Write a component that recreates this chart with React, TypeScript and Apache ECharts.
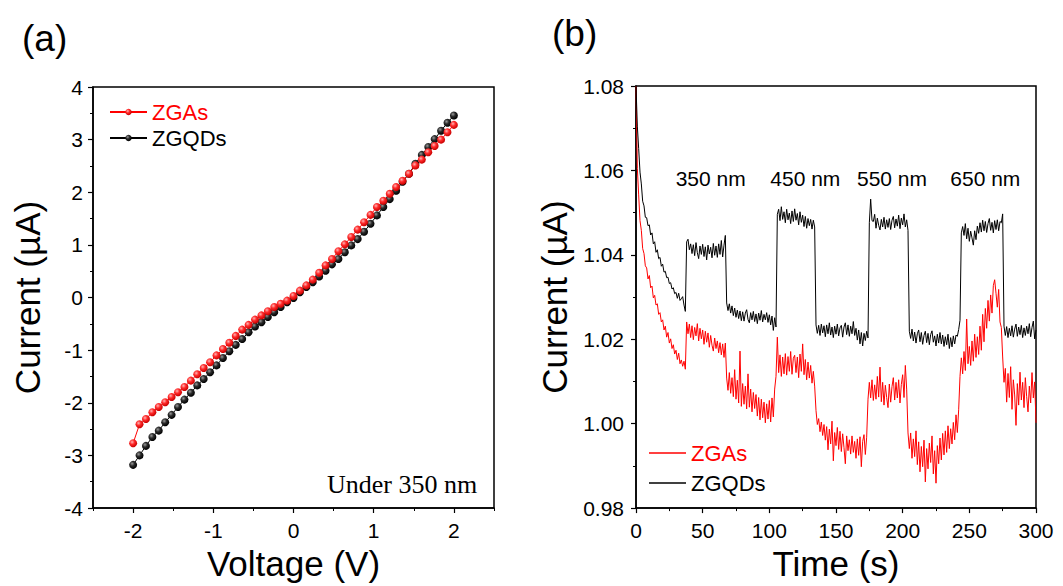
import React, { useEffect, useRef } from "react";
import * as echarts from "echarts";

// ---------- Panel (a): I-V curves under 350 nm ----------
const voltage = [
  -2, -1.92, -1.84, -1.76, -1.68, -1.6, -1.52, -1.44, -1.36, -1.28, -1.2, -1.12, -1.04,
  -0.96, -0.88, -0.8, -0.72, -0.64, -0.56, -0.48, -0.4, -0.32, -0.24, -0.16, -0.08, 0,
  0.08, 0.16, 0.24, 0.32, 0.4, 0.48, 0.56, 0.64, 0.72, 0.8, 0.88, 0.96, 1.04, 1.12, 1.2,
  1.28, 1.36, 1.44, 1.52, 1.6, 1.68, 1.76, 1.84, 1.92, 2,
];
const ivZGAs = [
  -2.77, -2.41, -2.31, -2.18, -2.08, -1.99, -1.89, -1.8, -1.7, -1.58, -1.46, -1.34, -1.23,
  -1.1, -0.98, -0.86, -0.73, -0.61, -0.52, -0.42, -0.34, -0.26, -0.18, -0.12, -0.06, 0.03,
  0.13, 0.23, 0.34, 0.47, 0.61, 0.73, 0.88, 1.01, 1.15, 1.29, 1.43, 1.57, 1.72, 1.84, 1.97,
  2.1, 2.22, 2.35, 2.51, 2.62, 2.76, 2.88, 3.0, 3.14, 3.28,
];
const ivZGQDs = [
  -3.18, -3.0, -2.82, -2.65, -2.53, -2.37, -2.23, -2.08, -1.94, -1.81, -1.67, -1.55, -1.42,
  -1.29, -1.15, -1.02, -0.9, -0.79, -0.66, -0.55, -0.47, -0.37, -0.28, -0.18, -0.09, -0.01,
  0.1, 0.2, 0.29, 0.4, 0.51, 0.63, 0.73, 0.86, 0.99, 1.11, 1.25, 1.4, 1.56, 1.72, 1.87,
  2.03, 2.2, 2.35, 2.54, 2.71, 2.86, 3.01, 3.17, 3.32, 3.46,
];
const voltageTicks = [-2, -1, 0, 1, 2];
const voltageMinorTicks = [-2.5, -1.5, -0.5, 0.5, 1.5, 2.5];

// ---------- Panel (b): photo-response, one sample per second (0..300 s) ----------
const sampleStepSeconds = 1;
const ptZGQDs = [
  1.08, 1.0705, 1.0652, 1.0596, 1.0568, 1.0527, 1.0516, 1.0489, 1.0488, 1.0469,
  1.0471, 1.0447, 1.0452, 1.0426, 1.0431, 1.0406, 1.0412, 1.0391, 1.0394, 1.0373,
  1.0378, 1.0359, 1.0361, 1.0346, 1.0347, 1.0332, 1.0334, 1.0319, 1.0322, 1.0308,
  1.0311, 1.0297, 1.0309, 1.0292, 1.0296, 1.0301, 1.0281, 1.0266, 1.0431, 1.0437,
  1.0412, 1.0426, 1.0403, 1.0424, 1.0398, 1.0429, 1.0405, 1.0391, 1.0421, 1.0401,
  1.0425, 1.0396, 1.0419, 1.0388, 1.0423, 1.0402, 1.0418, 1.0393, 1.0427, 1.0399,
  1.0421, 1.0394, 1.0426, 1.0401, 1.0434, 1.0395, 1.0423, 1.0446, 1.0286, 1.0268,
  1.0284, 1.0262, 1.0279, 1.0256, 1.0274, 1.0252, 1.0269, 1.0249, 1.0267, 1.0244,
  1.0265, 1.0243, 1.0262, 1.027, 1.0247, 1.0239, 1.0263, 1.0246, 1.0266, 1.0242,
  1.026, 1.0237, 1.0262, 1.0245, 1.0268, 1.0241, 1.0259, 1.0246, 1.0263, 1.024,
  1.0258, 1.0234, 1.0255, 1.0221, 1.0251, 1.0229, 1.0496, 1.0508, 1.0481, 1.0514,
  1.0484, 1.0502, 1.0476, 1.0508, 1.0483, 1.0499, 1.0474, 1.0504, 1.0479, 1.0509,
  1.0482, 1.0498, 1.0471, 1.0502, 1.0477, 1.0494, 1.0467, 1.0491, 1.0463, 1.0486,
  1.0469, 1.0484, 1.0461, 1.0482, 1.0466, 1.0234, 1.0214, 1.0233, 1.0209, 1.0236,
  1.0215, 1.0232, 1.0206, 1.0234, 1.0213, 1.0239, 1.021, 1.0229, 1.0204, 1.0231,
  1.0212, 1.0236, 1.0208, 1.0227, 1.0233, 1.0205, 1.0229, 1.0239, 1.0211, 1.0234,
  1.0207, 1.0231, 1.0213, 1.0242, 1.0209, 1.0226, 1.0198, 1.0222, 1.0189, 1.0216,
  1.0184, 1.0214, 1.0197, 1.0219, 1.0203, 1.0476, 1.0532, 1.0481, 1.0479, 1.0496,
  1.0463, 1.0487, 1.047, 1.0459, 1.0484, 1.0466, 1.0489, 1.0461, 1.0483, 1.0465,
  1.0486, 1.046, 1.0482, 1.0491, 1.0464, 1.0485, 1.0468, 1.0494, 1.0462, 1.0487,
  1.0471, 1.0497, 1.0466, 1.0483, 1.0458, 1.0219, 1.0202, 1.0224, 1.0196, 1.0217,
  1.0191, 1.0213, 1.0222, 1.0194, 1.0216, 1.0188, 1.0209, 1.0219, 1.0192, 1.0214,
  1.0187, 1.0211, 1.022, 1.0193, 1.0208, 1.0184, 1.0212, 1.0191, 1.0216, 1.0189,
  1.021, 1.0183, 1.0206, 1.0187, 1.0212, 1.0178, 1.0204, 1.0182, 1.0208, 1.0189,
  1.021, 1.0207, 1.0223, 1.0245, 1.0452, 1.0467, 1.0446, 1.0474, 1.0438, 1.0463,
  1.0432, 1.0456, 1.044, 1.0423, 1.0457, 1.0436, 1.0468, 1.0451, 1.0476, 1.0454,
  1.0482, 1.0457, 1.0479, 1.0453, 1.0474, 1.0486, 1.0458, 1.0477, 1.0452, 1.0481,
  1.046, 1.0483, 1.0457, 1.0479, 1.0476, 1.0497, 1.0231, 1.0209, 1.023, 1.0204,
  1.0226, 1.0208, 1.0232, 1.0205, 1.0224, 1.0236, 1.0207, 1.0229, 1.0211, 1.0233,
  1.0204, 1.0227, 1.0209, 1.0231, 1.0213, 1.0237, 1.0206, 1.0228, 1.0243, 1.0201,
  1.0222,
];
const ptZGAs = [
  1.08, 1.0605, 1.0542, 1.0481, 1.0458, 1.0415, 1.0403, 1.0374, 1.0369, 1.0343,
  1.0351, 1.0322, 1.0326, 1.0298, 1.0304, 1.0281, 1.0284, 1.0259, 1.0263, 1.0241,
  1.0246, 1.0222, 1.0231, 1.0205, 1.0216, 1.0191, 1.0201, 1.0178, 1.0187, 1.0165,
  1.0174, 1.0152, 1.0167, 1.0142, 1.0151, 1.0136, 1.0148, 1.0129, 1.0241, 1.0213,
  1.0236, 1.0204, 1.0232, 1.0199, 1.0228, 1.0208, 1.0237, 1.0196, 1.0226, 1.0201,
  1.0222, 1.0188, 1.0219, 1.0193, 1.0215, 1.0181, 1.0209, 1.0186, 1.0172, 1.0203,
  1.0178, 1.0196, 1.0168, 1.0192, 1.0163, 1.0189, 1.0157, 1.0191, 1.0108, 1.0079,
  1.0121, 1.0072, 1.0109, 1.0064, 1.0128, 1.0058, 1.0103, 1.0049, 1.0172, 1.0041,
  1.0095, 1.0046, 1.0089, 1.0035, 1.0118, 1.0039, 1.0082, 1.0028, 1.0074, 1.0036,
  1.0069, 1.0018, 1.0062, 1.0009, 1.0058, 1.0014, 1.0051, 1.0002, 1.0047, 1.0011,
  1.0055, 1.0004, 1.0061, 1.0016, 1.0082, 1.0112, 1.0205, 1.0121, 1.0163, 1.0112,
  1.0158, 1.0118, 1.0166, 1.0115, 1.0159, 1.0124, 1.0171, 1.0117, 1.0155, 1.0162,
  1.0121, 1.0158, 1.0109, 1.0165, 1.0124, 1.0189, 1.0116, 1.0152, 1.0104, 1.0146,
  1.0108, 1.0138, 1.0096, 1.0124, 1.0089, 1.0031, 0.9998, 1.0012, 0.9981, 1.0004,
  0.9972, 0.9998, 0.9961, 0.9993, 0.9938, 0.9987, 0.9952, 1.0006, 0.9912, 0.9979,
  0.9948, 0.9991, 0.9939, 0.9982, 0.9934, 0.9976, 0.9943, 0.9905, 0.9971, 0.9936,
  0.9962, 0.9928, 0.9971, 0.9932, 0.9958, 0.9918, 0.9964, 0.9925, 0.9969, 0.9898,
  0.9958, 0.9974, 0.9927, 0.9968, 1.0058, 1.0098, 1.0061, 1.0104, 1.0055, 1.0092,
  1.0058, 1.0112, 1.0063, 1.0134, 1.0052, 1.0098, 1.0044, 1.0091, 1.0062, 1.0038,
  1.0094, 1.0051, 1.0088, 1.0109, 1.0056, 1.0098, 1.0061, 1.0104, 1.0049, 1.0093,
  1.0116, 1.0062, 1.0138, 1.0082, 0.9978, 0.9941, 0.9978, 0.9918, 0.9964, 0.9922,
  0.9983, 0.9903, 0.9957, 0.9886, 0.9946, 0.9898, 0.9961, 0.9862, 0.9941, 0.9893,
  0.9954, 0.9908, 0.9971, 0.9881, 0.9936, 0.9859, 0.9948, 0.9905, 0.9966, 0.9914,
  0.9977, 0.9926, 0.9983, 0.9932, 0.9995, 0.9941, 0.9988, 0.9952, 1.0003, 0.9962,
  1.0021, 0.9979, 1.0033, 1.0112, 1.0156, 1.0118, 1.0171, 1.0126, 1.0248, 1.0142,
  1.0183, 1.0138, 1.0196, 1.0148, 1.0212, 1.0157, 1.0206, 1.0164, 1.0231, 1.0174,
  1.0259, 1.0194, 1.0273, 1.0226, 1.0292, 1.0243, 1.0305, 1.0262, 1.0327, 1.0341,
  1.0309, 1.0276, 1.0318, 1.0241, 1.0228, 1.0158, 1.0098, 1.0131, 1.0051, 1.0119,
  1.0062, 1.0135, 1.0034, 1.0104, 1.0068, 0.9996, 1.0095, 1.0044, 1.0122, 1.0056,
  1.0098, 1.0038, 1.0109, 1.0064, 1.0028, 1.0089, 1.0049, 1.0121, 1.0061, 1.0099,
  1.0002,
];
const wavelengthLabels = ["350 nm", "450 nm", "550 nm", "650 nm"];
const wavelengthLabelTimes = [56, 127, 192, 262];
const wavelengthLabelCurrent = 1.058;

const FONT = '"Liberation Sans", Arial, Helvetica, sans-serif';
const RED = "#ff0000";
const BLACK = "#000000";

const ball = (hi: string, mid: string, dark: string) => ({
  type: "radial",
  x: 0.38,
  y: 0.35,
  r: 0.65,
  colorStops: [
    { offset: 0, color: hi },
    { offset: 0.45, color: mid },
    { offset: 1, color: dark },
  ],
});

export default function App() {
  const ref = useRef<HTMLDivElement>(null);

  useEffect(() => {
    document.body.style.margin = "0";
    if (!ref.current) return;
    const chart = echarts.init(ref.current, null, { renderer: "svg" });

    const axisLineStyle = { color: BLACK, width: 1.5 };
    const labelStyle = { color: BLACK, fontSize: 21, fontFamily: FONT };
    const nameStyle = { color: BLACK, fontSize: 35, fontFamily: FONT };
    const lineIcon = "rect";

    const option: any = {
      animation: false,
      backgroundColor: "#ffffff",
      grid: [
        { left: 93, top: 87, width: 401, height: 421, show: true, borderColor: BLACK, borderWidth: 1.5, backgroundColor: "transparent" },
        { left: 636, top: 86, width: 400, height: 425, show: true, borderColor: BLACK, borderWidth: 1.5, backgroundColor: "transparent" },
      ],
      xAxis: [
        {
          type: "value", gridIndex: 0, position: "bottom", min: -2.5, max: 2.5,
          name: "Voltage (V)", nameLocation: "middle", nameGap: 37, nameTextStyle: nameStyle,
          axisLine: { show: true, onZero: false, lineStyle: axisLineStyle },
          axisTick: { show: true, customValues: voltageTicks, length: 5, lineStyle: { color: BLACK, width: 1.2 } },
          axisLabel: { ...labelStyle, customValues: voltageTicks, margin: 12 },
          splitLine: { show: false },
        },
        {
          type: "value", gridIndex: 0, position: "bottom", min: -2.5, max: 2.5,
          axisLine: { show: false, onZero: false },
          axisTick: { show: true, customValues: voltageMinorTicks, length: 3, lineStyle: { color: BLACK, width: 1 } },
          axisLabel: { show: false },
          splitLine: { show: false },
        },
        {
          type: "value", gridIndex: 1, position: "bottom", min: 0, max: 300, interval: 50,
          name: "Time (s)", nameLocation: "middle", nameGap: 37, nameTextStyle: nameStyle,
          axisLine: { show: true, onZero: false, lineStyle: axisLineStyle },
          axisTick: { show: true, length: 5, lineStyle: { color: BLACK, width: 1.2 } },
          minorTick: { show: true, splitNumber: 2, length: 3, lineStyle: { color: BLACK, width: 1 } },
          axisLabel: { ...labelStyle, margin: 12 },
          splitLine: { show: false },
        },
      ],
      yAxis: [
        {
          type: "value", gridIndex: 0, min: -4, max: 4, interval: 1,
          name: "Current (µA)", nameLocation: "middle", nameGap: 48, nameTextStyle: nameStyle,
          axisLine: { show: true, onZero: false, lineStyle: axisLineStyle },
          axisTick: { show: true, length: 5, lineStyle: { color: BLACK, width: 1.2 } },
          minorTick: { show: true, splitNumber: 2, length: 3, lineStyle: { color: BLACK, width: 1 } },
          axisLabel: { ...labelStyle, margin: 10 },
          splitLine: { show: false },
        },
        {
          type: "value", gridIndex: 1, min: 0.98, max: 1.08, interval: 0.02,
          name: "Current (µA)", nameLocation: "middle", nameGap: 64, nameTextStyle: nameStyle,
          axisLine: { show: true, onZero: false, lineStyle: axisLineStyle },
          axisTick: { show: true, length: 5, lineStyle: { color: BLACK, width: 1.2 } },
          minorTick: { show: true, splitNumber: 2, length: 3, lineStyle: { color: BLACK, width: 1 } },
          axisLabel: { ...labelStyle, margin: 12, formatter: (v: number) => v.toFixed(2) },
          splitLine: { show: false },
        },
      ],
      legend: [
        {
          orient: "vertical", left: 109, top: 101, padding: 0, itemGap: 4,
          itemWidth: 37, itemHeight: 8,
          textStyle: { color: BLACK, fontSize: 22, fontFamily: FONT },
          data: [{ name: "ZGAs", textStyle: { color: RED } }, { name: "ZGQDs" }],
        },
        {
          orient: "vertical", left: 649, top: 442, padding: 0, itemGap: 8,
          itemWidth: 37, itemHeight: 1.3,
          textStyle: { color: BLACK, fontSize: 22, fontFamily: FONT },
          formatter: (n: string) => n.trim(),
          data: [
            { name: "ZGAs ", icon: lineIcon, textStyle: { color: RED } },
            { name: "ZGQDs ", icon: lineIcon },
          ],
        },
      ],
      series: [
        {
          name: "ZGQDs", type: "line", xAxisIndex: 0, yAxisIndex: 0,
          data: voltage.map((v, i) => [v, ivZGQDs[i]]),
          symbol: "circle", symbolSize: 8, showAllSymbol: true,
          itemStyle: { color: ball("#9a9a9a", "#2a2a2a", "#000000") },
          lineStyle: { color: BLACK, width: 1 },
        },
        {
          name: "ZGAs", type: "line", xAxisIndex: 0, yAxisIndex: 0,
          data: voltage.map((v, i) => [v, ivZGAs[i]]),
          symbol: "circle", symbolSize: 8, showAllSymbol: true,
          itemStyle: { color: ball("#ffb4b4", "#ff2a2a", "#c80000") },
          lineStyle: { color: RED, width: 1 },
        },
        {
          name: "ZGAs ", type: "line", xAxisIndex: 2, yAxisIndex: 1,
          data: ptZGAs.map((c, i) => [i * sampleStepSeconds, c]),
          symbol: "none", itemStyle: { color: RED }, lineStyle: { color: RED, width: 1 },
        },
        {
          name: "ZGQDs ", type: "line", xAxisIndex: 2, yAxisIndex: 1,
          data: ptZGQDs.map((c, i) => [i * sampleStepSeconds, c]),
          symbol: "none", itemStyle: { color: BLACK }, lineStyle: { color: BLACK, width: 1 },
        },
        {
          name: "wavelength", type: "scatter", xAxisIndex: 2, yAxisIndex: 1,
          symbolSize: 0, silent: true, itemStyle: { opacity: 1 },
          data: wavelengthLabels.map((w, i) => ({ name: w, value: [wavelengthLabelTimes[i], wavelengthLabelCurrent] })),
          label: { show: true, position: "inside", formatter: "{b}", color: BLACK, opacity: 1, fontSize: 21, fontFamily: FONT },
        },
      ],
      graphic: [
        { type: "text", left: 22, top: 20, style: { text: "(a)", fontSize: 37, fontFamily: FONT, fill: BLACK } },
        { type: "text", left: 552, top: 15, style: { text: "(b)", fontSize: 37, fontFamily: FONT, fill: BLACK } },
        {
          type: "text", x: 327, y: 484,
          style: { text: "Under 350 nm", fontSize: 26, fontFamily: '"Liberation Serif", "Times New Roman", serif', fill: BLACK, verticalAlign: "middle" },
        },
      ],
    };

    chart.setOption(option);
    return () => chart.dispose();
  }, []);

  return <div ref={ref} style={{ width: 1063, height: 586 }} />;
}
